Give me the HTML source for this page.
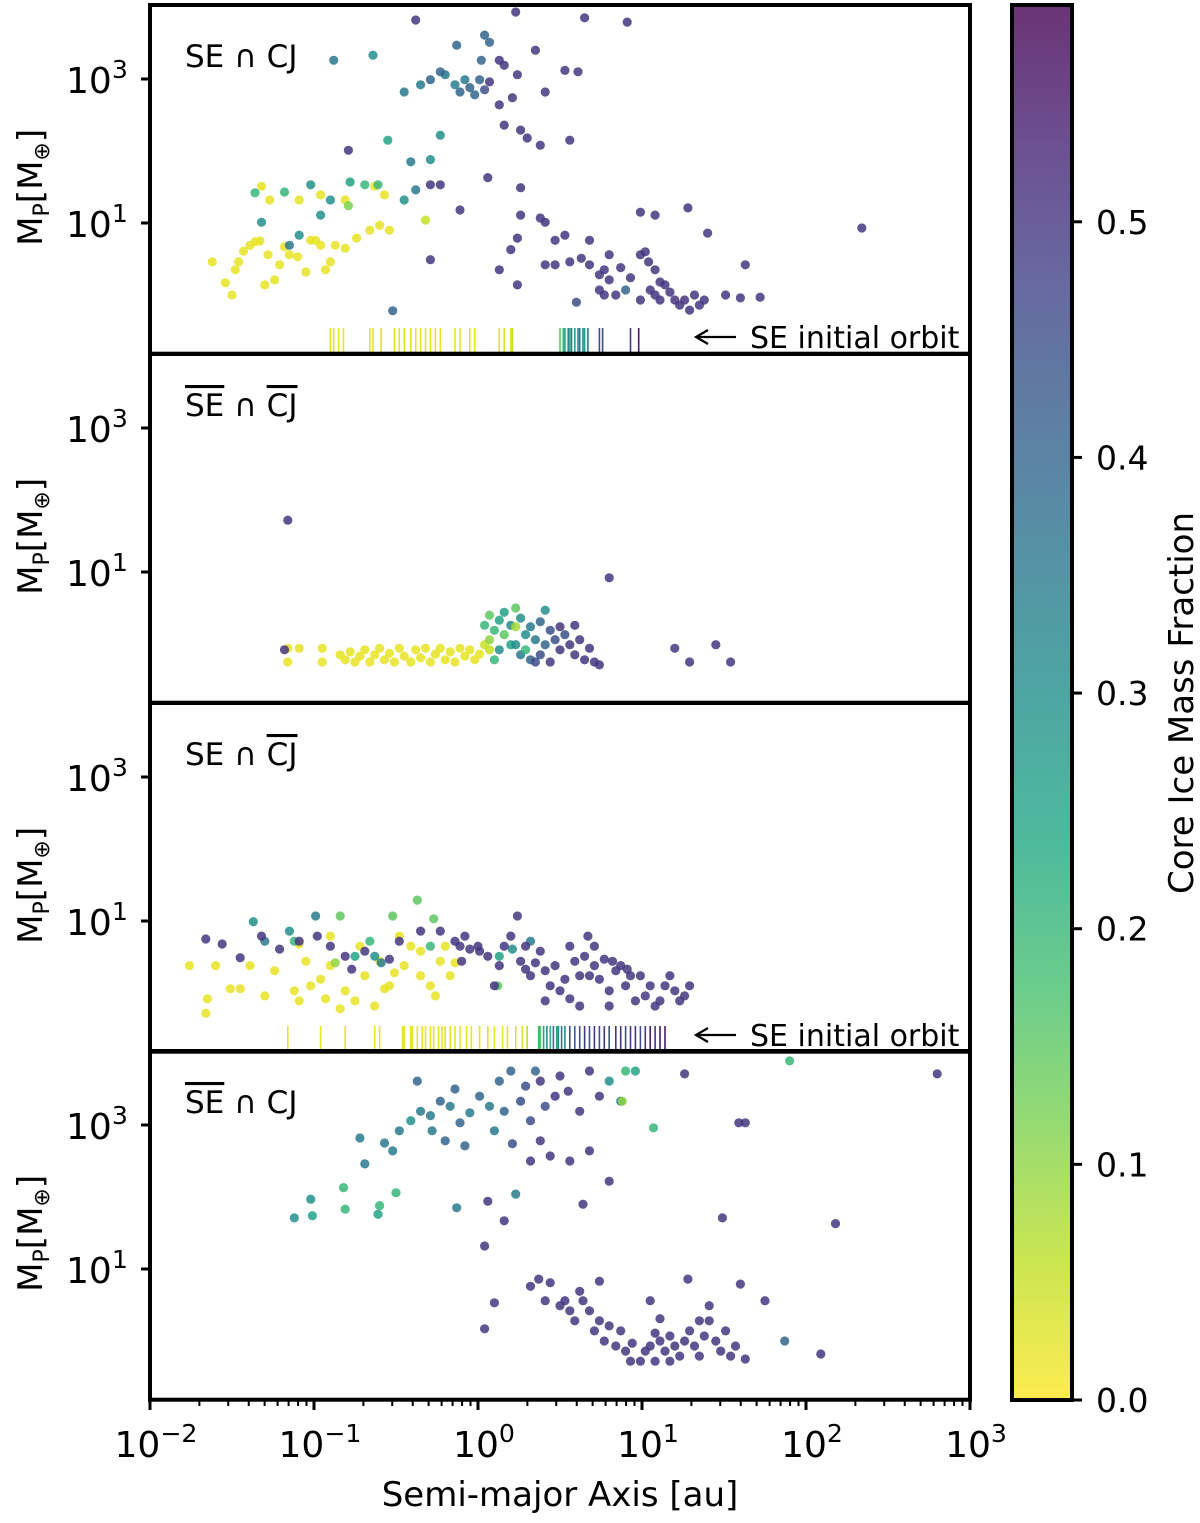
<!DOCTYPE html>
<html><head><meta charset="utf-8"><style>
html,body{margin:0;padding:0;background:#fff;width:1200px;height:1523px;overflow:hidden}
svg{display:block;font-family:"DejaVu Sans","Liberation Sans",sans-serif}
</style></head><body>
<svg id="chart" width="1200" height="1523" viewBox="0 0 1200 1523" xmlns="http://www.w3.org/2000/svg">
<defs>
<linearGradient id="cbg" x1="0" y1="1" x2="0" y2="0">
<stop offset="0" stop-color="#fde725"/><stop offset="0.1" stop-color="#bddf26"/><stop offset="0.2" stop-color="#7ad151"/><stop offset="0.3" stop-color="#44bf70"/><stop offset="0.4" stop-color="#22a884"/><stop offset="0.5" stop-color="#21918c"/><stop offset="0.6" stop-color="#2a788e"/><stop offset="0.7" stop-color="#355f8d"/><stop offset="0.8" stop-color="#414487"/><stop offset="0.9" stop-color="#482475"/><stop offset="1" stop-color="#440154"/>
</linearGradient>
</defs>
<g id="layer"></g>
</svg>
<script>
// Data: [log10 a (au), log10 Mp (Earth masses), core ice mass fraction]
const xTickExps = [-2, -1, 0, 1, 2, 3];
const yTickExps = [1, 3];
const cbTicks = [0.0, 0.1, 0.2, 0.3, 0.4, 0.5];

const seCj = [
[-1.62,0.46,0.02],[-1.54,0.17,0.02],[-1.50,0.0,0.02],[-1.48,0.35,0.02],[-1.46,0.46,0.02],[-1.43,0.61,0.02],[-1.39,0.69,0.02],[-1.36,0.74,0.02],[-1.33,0.75,0.02],[-1.30,0.14,0.02],[-1.28,0.56,0.02],[-1.24,0.21,0.02],[-1.21,0.42,0.02],[-1.18,0.67,0.02],[-1.15,0.56,0.02],[-1.10,0.53,0.02],[-1.05,0.32,0.02],[-1.02,0.76,0.02],[-0.99,0.76,0.02],[-0.96,0.69,0.02],[-0.93,0.35,0.02],[-0.90,0.46,0.02],[-0.87,0.69,0.02],[-0.81,0.65,0.02],[-0.74,0.79,0.02],[-0.66,0.90,0.02],[-0.60,0.97,0.02],[-1.32,1.51,0.02],[-1.27,1.32,0.02],[-1.09,1.32,0.02],[-0.96,1.39,0.02],[-0.81,1.32,0.02],[-0.63,1.51,0.02],[-0.57,1.39,0.02],[-0.32,1.04,0.05],[-0.54,0.90,0.02],
[-1.36,1.42,0.2],[-1.18,1.43,0.2],[-1.02,1.53,0.3],[-0.90,1.32,0.3],[-1.32,1.01,0.3],[-1.15,0.69,0.35],[-1.09,0.83,0.3],[-0.96,1.11,0.3],[-0.78,1.57,0.25],[-0.69,1.53,0.2],[-0.61,1.53,0.2],[-0.79,1.24,0.12],[-0.45,1.32,0.3],[-0.38,1.46,0.35],[-0.41,1.85,0.35],[-0.29,1.88,0.3],[-0.23,2.22,0.3],[-0.55,2.15,0.25],[-0.64,3.33,0.3],[-0.88,3.26,0.35],[-0.79,2.01,0.5],
[-0.29,1.53,0.5],[-0.23,1.53,0.5],[-0.11,1.18,0.5],[-0.29,0.49,0.5],[0.06,1.63,0.5],[0.26,1.49,0.5],[0.26,1.11,0.5],[0.38,1.07,0.5],[0.41,1.01,0.5],[0.24,0.79,0.5],[0.24,0.14,0.5],[0.13,0.35,0.5],[0.20,0.63,0.5],[0.47,0.76,0.5],[0.53,0.83,0.5],[0.16,2.36,0.5],[0.26,2.29,0.5],[0.30,2.18,0.5],[0.38,2.08,0.5],[0.56,2.15,0.5],[0.13,2.64,0.5],[0.21,2.74,0.5],[0.24,3.06,0.5],[0.41,2.82,0.5],[-0.38,3.82,0.5],[-0.13,3.47,0.4],[0.04,3.61,0.4],[0.07,3.51,0.4],[0.13,3.26,0.5],[0.16,3.19,0.5],[0.23,3.93,0.5],[0.35,3.40,0.5],[0.53,3.12,0.5],[0.61,3.10,0.5],[0.65,3.85,0.5],[0.91,3.79,0.5],[-0.20,3.06,0.35],[-0.14,2.92,0.35],[-0.11,2.82,0.4],[-0.08,2.99,0.35],[-0.05,2.88,0.4],[-0.02,2.78,0.4],[0.01,2.99,0.4],[0.04,2.85,0.45],[0.07,2.96,0.5],[-0.35,2.92,0.35],[-0.29,2.99,0.4],[-0.23,3.10,0.4],[-0.45,2.82,0.35],[0.02,3.26,0.4],
[0.56,0.46,0.5],[0.63,0.51,0.5],[0.68,0.42,0.5],[0.74,0.28,0.5],[0.77,0.35,0.5],[0.80,0.21,0.5],[0.87,0.38,0.5],[0.93,0.24,0.5],[0.99,0.56,0.5],[1.02,0.60,0.5],[1.04,0.46,0.5],[1.08,0.35,0.5],[1.11,0.18,0.5],[1.14,0.14,0.5],[1.17,0.04,0.5],[1.20,-0.07,0.5],[1.23,-0.14,0.5],[1.26,-0.07,0.5],[1.29,-0.21,0.5],[1.32,0.0,0.5],[1.35,-0.14,0.5],[1.38,-0.07,0.5],[1.05,0.07,0.5],[1.08,0.0,0.5],[1.11,-0.07,0.5],[0.99,-0.07,0.5],[0.84,0.0,0.5],[0.77,0.0,0.5],[0.90,0.07,0.4],[0.74,0.07,0.5],[0.60,-0.10,0.45],[0.41,0.42,0.5],[0.47,0.42,0.5],[0.68,0.76,0.5],[0.80,0.56,0.5],[0.99,1.15,0.5],[1.08,1.11,0.5],[1.28,1.21,0.5],[1.40,0.86,0.5],[1.63,0.42,0.5],[1.51,0.0,0.5],[1.60,-0.04,0.5],[1.72,-0.03,0.5],[2.34,0.93,0.5],[-0.52,-0.22,0.4]
];
const seCjRug = [
[-0.90,0.02],[-0.88,0.02],[-0.85,0.02],[-0.82,0.02],[-0.66,0.02],[-0.64,0.02],[-0.59,0.02],[-0.51,0.02],[-0.48,0.02],[-0.45,0.02],[-0.41,0.02],[-0.38,0.02],[-0.35,0.02],[-0.32,0.02],[-0.29,0.02],[-0.26,0.02],[-0.23,0.02],[-0.14,0.02],[-0.11,0.02],[-0.05,0.02],[-0.02,0.02],[0.13,0.03],[0.16,0.03],[0.20,0.03],[0.21,0.05],
[0.50,0.15],[0.52,0.2],[0.53,0.25],[0.55,0.3],[0.56,0.2],[0.57,0.35],[0.59,0.25],[0.61,0.3],[0.62,0.35],[0.64,0.3],[0.65,0.25],[0.67,0.35],[0.74,0.45],[0.76,0.45],[0.93,0.5],[0.98,0.55]
];
const nSeNCj = [
[-1.16,-0.25,0.02],[-1.16,-0.06,0.02],[-1.09,-0.06,0.02],[-0.95,-0.06,0.02],[-0.95,-0.25,0.02],[-0.84,-0.15,0.02],[-0.81,-0.22,0.02],[-0.78,-0.11,0.02],[-0.75,-0.25,0.02],[-0.72,-0.17,0.02],[-0.69,-0.08,0.02],[-0.66,-0.25,0.02],[-0.63,-0.15,0.02],[-0.60,-0.06,0.02],[-0.57,-0.22,0.02],[-0.54,-0.13,0.02],[-0.51,-0.25,0.02],[-0.48,-0.06,0.02],[-0.45,-0.17,0.02],[-0.41,-0.25,0.02],[-0.38,-0.08,0.02],[-0.35,-0.19,0.02],[-0.32,-0.06,0.02],[-0.29,-0.25,0.02],[-0.26,-0.14,0.02],[-0.23,-0.06,0.02],[-0.20,-0.22,0.02],[-0.17,-0.11,0.02],[-0.14,-0.25,0.02],[-0.11,-0.06,0.02],[-0.08,-0.17,0.02],[-0.05,-0.08,0.02],[-0.02,-0.22,0.02],[0.01,-0.14,0.02],[0.04,-0.01,0.05],[0.07,-0.08,0.05],
[0.04,0.26,0.2],[0.07,0.40,0.15],[0.10,0.19,0.2],[0.13,0.33,0.25],[0.16,0.44,0.25],[0.20,0.26,0.3],[0.23,0.50,0.15],[0.26,0.36,0.3],[0.29,0.13,0.3],[0.32,0.24,0.35],[0.35,0.06,0.35],[0.38,0.31,0.4],[0.41,-0.01,0.4],[0.44,0.19,0.45],[0.47,0.06,0.45],[0.50,-0.08,0.5],[0.53,0.13,0.45],[0.56,-0.01,0.5],[0.59,-0.15,0.5],[0.62,0.06,0.5],[0.65,-0.22,0.5],[0.68,-0.06,0.5],[0.71,-0.25,0.5],[0.74,-0.29,0.5],[0.13,-0.08,0.3],[0.20,-0.01,0.25],[0.26,-0.15,0.35],[0.32,-0.22,0.4],[0.38,-0.15,0.45],[0.44,-0.25,0.5],[0.07,0.06,0.1],[0.10,-0.22,0.2],[0.16,0.13,0.15],[0.23,-0.01,0.3],[0.29,-0.08,0.2],[0.35,-0.25,0.45],[0.41,0.47,0.3],[0.23,0.24,0.08],[0.50,0.24,0.5],[0.59,0.26,0.5],
[-1.16,1.72,0.5],[0.80,0.92,0.5],[1.20,-0.06,0.5],[1.29,-0.25,0.5],[1.45,-0.01,0.5],[1.54,-0.25,0.5],[-1.18,-0.08,0.5]
];
const seNCj = [
[-1.76,0.38,0.02],[-1.65,-0.08,0.02],[-1.66,-0.28,0.02],[-1.60,0.38,0.02],[-1.51,0.06,0.02],[-1.45,0.06,0.02],[-1.39,0.38,0.02],[-1.30,-0.04,0.02],[-1.24,0.31,0.02],[-1.12,0.03,0.02],[-1.09,-0.11,0.02],[-1.05,0.44,0.02],[-1.02,0.10,0.02],[-0.96,0.19,0.02],[-0.93,-0.08,0.02],[-0.90,0.38,0.02],[-0.84,-0.22,0.02],[-0.81,0.03,0.02],[-0.75,-0.11,0.02],[-0.72,0.65,0.02],[-0.69,0.24,0.02],[-0.63,-0.18,0.02],[-0.57,0.06,0.02],[-0.54,0.10,0.02],[-0.51,0.28,0.02],[-0.48,0.79,0.02],[-0.45,0.38,0.02],[-0.41,0.65,0.02],[-0.35,0.24,0.02],[-0.29,0.10,0.02],[-0.26,-0.04,0.02],[-0.23,0.44,0.02],[-0.20,0.65,0.02],[-0.17,0.24,0.02],[-0.60,0.44,0.02],[-0.35,0.58,0.02],[-0.90,0.79,0.02],[-1.09,0.68,0.02],[-0.14,0.42,0.02],
[-1.37,0.99,0.3],[-1.30,0.72,0.35],[-1.15,0.86,0.3],[-1.12,0.72,0.2],[-0.99,1.07,0.35],[-0.84,1.07,0.15],[-0.75,0.51,0.25],[-0.66,0.72,0.2],[-0.63,0.51,0.3],[-0.59,0.42,0.35],[-0.52,1.07,0.15],[-0.37,1.29,0.15],[-0.27,1.03,0.15],[-0.29,0.65,0.2],[0.12,0.10,0.15],[0.13,0.51,0.25],[0.21,0.61,0.3],[0.32,0.72,0.35],[-0.87,0.42,0.1],
[-1.66,0.75,0.5],[-1.56,0.68,0.5],[-1.45,0.49,0.5],[-1.32,0.79,0.5],[-1.21,0.61,0.5],[-1.09,0.72,0.5],[-0.98,0.79,0.5],[-0.90,0.65,0.5],[-0.81,0.51,0.5],[-0.77,0.33,0.5],[-0.69,0.58,0.5],[-0.54,0.47,0.5],[-0.48,0.72,0.5],[-0.35,0.86,0.5],[-0.23,0.86,0.5],[-0.14,0.72,0.5],[-0.11,0.65,0.5],[-0.08,0.79,0.5],[-0.05,0.61,0.5],[0.01,0.58,0.5],[0.06,0.51,0.5],[0.13,0.38,0.5],[0.16,0.65,0.5],[0.20,0.79,0.5],[0.24,1.07,0.5],[0.26,0.44,0.5],[0.29,0.33,0.5],[0.32,0.24,0.5],[0.35,0.42,0.5],[0.38,0.58,0.5],[0.41,0.31,0.5],[0.44,0.10,0.5],[0.47,0.38,0.5],[0.50,0.03,0.5],[0.53,0.19,0.5],[0.56,0.65,0.5],[0.59,0.44,0.5],[0.62,0.24,0.5],[0.65,0.51,0.5],[0.68,0.24,0.5],[0.71,0.38,0.5],[0.74,0.19,0.5],[0.77,0.47,0.5],[0.80,0.03,0.5],[0.84,0.31,0.5],[0.87,0.38,0.5],[0.90,0.10,0.5],[0.93,0.24,0.5],[0.96,-0.11,0.5],[0.99,0.24,0.5],[1.02,-0.04,0.5],[1.05,0.10,0.5],[1.08,-0.18,0.5],[1.11,-0.11,0.5],[1.14,0.10,0.5],[1.17,0.24,0.5],[1.20,0.03,0.5],[1.23,-0.11,0.5],[1.26,-0.04,0.5],[1.29,0.10,0.5],[0.71,0.65,0.5],[0.67,0.79,0.5],[0.82,0.44,0.5],[0.91,0.33,0.5],[0.56,-0.08,0.5],[0.41,-0.11,0.5],[0.62,-0.18,0.5],[0.80,-0.18,0.5],[0.29,0.65,0.5],[0.10,0.10,0.5],[0.0,0.65,0.5],[-0.10,0.44,0.5]
];
const seNCjRug = [
[-1.16,0.02],[-0.96,0.02],[-0.81,0.02],[-0.63,0.02],[-0.60,0.02],[-0.46,0.02],[-0.45,0.02],[-0.41,0.02],[-0.40,0.02],[-0.37,0.02],[-0.34,0.02],[-0.32,0.02],[-0.29,0.02],[-0.27,0.02],[-0.24,0.02],[-0.22,0.02],[-0.20,0.02],[-0.17,0.02],[-0.14,0.02],[-0.11,0.02],[-0.07,0.02],[-0.04,0.02],[0.01,0.02],[0.06,0.02],[0.10,0.02],[0.15,0.02],[0.18,0.02],[0.23,0.03],[0.27,0.03],[0.30,0.05],
[0.37,0.2],[0.38,0.15],[0.40,0.25],[0.42,0.3],[0.44,0.2],[0.46,0.35],[0.48,0.25],[0.49,0.3],[0.51,0.35],[0.53,0.3],
[0.56,0.45],[0.59,0.4],[0.62,0.45],[0.65,0.5],[0.68,0.45],[0.71,0.5],[0.74,0.45],[0.77,0.5],[0.80,0.45],[0.84,0.5],[0.87,0.5],[0.90,0.45],[0.93,0.5],[0.96,0.5],[0.99,0.45],[1.02,0.5],[1.05,0.55],[1.08,0.5],[1.11,0.55],[1.14,0.55]
];
const nSeCj = [
[-1.12,1.71,0.3],[-1.02,1.97,0.3],[-1.01,1.74,0.25],[-0.82,2.13,0.2],[-0.81,1.83,0.2],[-0.61,1.76,0.25],[-0.60,1.88,0.2],[-0.50,2.06,0.2],[-0.13,1.85,0.35],[0.23,2.04,0.35],[-0.69,2.46,0.35],[-0.52,2.64,0.35],[-0.57,2.75,0.35],[-0.48,2.92,0.35],[-0.41,3.06,0.3],[-0.35,3.19,0.35],[-0.29,3.13,0.35],[-0.23,3.33,0.4],[-0.17,3.26,0.35],[-0.11,3.03,0.4],[-0.05,3.17,0.35],[0.01,3.40,0.4],[0.07,3.26,0.35],[0.10,2.92,0.35],[0.13,3.61,0.4],[0.16,3.19,0.4],[0.20,3.75,0.4],[0.26,3.33,0.45],[0.29,3.54,0.45],[0.32,3.06,0.45],[0.38,3.61,0.5],[0.41,3.26,0.45],[0.47,3.40,0.5],[0.50,3.68,0.5],[0.55,3.47,0.5],[0.62,3.19,0.5],[0.68,3.75,0.5],[0.74,3.40,0.5],[0.80,3.61,0.3],[0.87,3.33,0.35],[0.90,3.75,0.2],[0.96,3.75,0.25],[0.88,3.33,0.1],[1.07,2.96,0.2],[1.26,3.71,0.5],[1.90,3.89,0.2],[2.80,3.71,0.5],[1.59,3.03,0.5],[1.63,3.03,0.5],[-0.72,2.82,0.35],[-0.37,3.61,0.4],[-0.28,2.92,0.35],[-0.20,2.78,0.4],[-0.08,2.71,0.4],[-0.14,3.50,0.4],[0.38,2.78,0.5],[0.44,2.57,0.5],[0.56,2.50,0.5],[0.68,2.64,0.5],[0.80,2.22,0.5],[0.64,1.90,0.5],[0.06,1.94,0.5],[0.16,1.67,0.5],[0.04,1.32,0.5],[1.49,1.71,0.5],[2.18,1.63,0.5],[0.35,3.75,0.4],[0.21,2.74,0.45],[0.32,2.50,0.5],
[0.10,0.53,0.5],[0.04,0.17,0.5],[0.32,0.76,0.5],[0.37,0.86,0.5],[0.41,0.56,0.5],[0.44,0.81,0.5],[0.50,0.49,0.5],[0.53,0.56,0.5],[0.56,0.42,0.5],[0.59,0.28,0.5],[0.64,0.56,0.5],[0.68,0.42,0.5],[0.71,0.14,0.5],[0.74,0.28,0.5],[0.77,0.0,0.5],[0.80,0.21,0.5],[0.84,-0.07,0.5],[0.87,0.14,0.5],[0.90,-0.14,0.5],[0.94,-0.03,0.5],[0.99,-0.28,0.5],[1.02,-0.14,0.5],[1.05,-0.07,0.5],[1.08,0.11,0.5],[1.11,0.0,0.5],[1.14,-0.14,0.5],[1.17,0.07,0.5],[1.20,-0.07,0.5],[1.23,-0.21,0.5],[1.26,0.0,0.5],[1.29,0.14,0.5],[1.32,-0.07,0.5],[1.35,-0.21,0.5],[1.38,0.07,0.5],[1.41,0.28,0.5],[1.45,0.0,0.5],[1.48,-0.14,0.5],[1.51,0.14,0.5],[1.54,-0.21,0.5],[1.57,-0.07,0.5],[1.63,-0.25,0.5],[1.05,0.56,0.5],[1.11,0.31,0.5],[1.28,0.86,0.5],[1.35,0.28,0.5],[1.41,0.49,0.5],[1.60,0.79,0.5],[1.75,0.56,0.5],[1.87,0.0,0.4],[2.09,-0.18,0.5],[0.74,0.83,0.5],[0.62,0.69,0.5],[0.93,-0.28,0.5],[1.08,-0.28,0.5],[1.17,-0.28,0.5]
];

const panels = [
  {name:"se-and-cj", top:5, pts:seCj, rug:seCjRug},
  {name:"not-se-and-not-cj", top:354, pts:nSeNCj, rug:null},
  {name:"se-and-not-cj", top:703, pts:seNCj, rug:seNCjRug},
  {name:"not-se-and-cj", top:1051, pts:nSeCj, rug:null}
];

const X0 = 150, X1 = 970, PH = 348.7;
const xScale = v => X0 + (v + 2) * (X1 - X0) / 5;
const yScale = (top, v) => top + 74 + (3 - v) * 72;
const CMAX = 0.592;
const VIR = ["#440154","#482475","#414487","#355f8d","#2a788e","#21918c","#22a884","#44bf70","#7ad151","#bddf26","#fde725"];
function hex(h){return [parseInt(h.slice(1,3),16),parseInt(h.slice(3,5),16),parseInt(h.slice(5,7),16)];}
function color(c){
  let t = 1 - Math.max(0, Math.min(1, c / CMAX));
  let f = t * 10, i = Math.min(9, Math.floor(f)), r = f - i;
  const a = hex(VIR[i]), b = hex(VIR[i+1]);
  return "rgb(" + a.map((v,k)=>Math.round(v + (b[k]-v)*r)).join(",") + ")";
}
const NS = "http://www.w3.org/2000/svg";
const layer = document.getElementById("layer");
function mk(tag, attrs, parent){
  const e = document.createElementNS(NS, tag);
  for (const k in attrs) e.setAttribute(k, attrs[k]);
  (parent || layer).appendChild(e);
  return e;
}
function supText(parent, x, y, base, sup, anchor, fs){
  const t = mk("text", {x:x, y:y, "font-size":fs, "text-anchor":anchor, fill:"#000"}, parent);
  const a = document.createElementNS(NS, "tspan"); a.textContent = base; t.appendChild(a);
  const b = document.createElementNS(NS, "tspan"); b.setAttribute("dy", -fs*0.42); b.setAttribute("font-size", fs*0.7); b.textContent = sup; t.appendChild(b);
  return t;
}

panels.forEach((p, pi) => {
  const g = mk("g", {});
  
  
  const pg = mk("g", {}, g);
  
  
  p.pts.forEach(d => {
    const c = mk("circle", {cx:xScale(d[0]).toFixed(1), cy:yScale(p.top, d[1]).toFixed(1), r:4.6, fill:color(d[2]), "fill-opacity":0.85}, pg);
    
    
  });
  if (p.rug) {
    const rg = mk("g", {}, g);
    
    
    p.rug.forEach(d => {
      const x = xScale(d[0]).toFixed(1);
      const l = mk("line", {x1:x, x2:x, y1:p.top+323, y2:p.top+347, stroke:color(d[1]), "stroke-width":1.6}, rg);
      
      
    });
    const ar = mk("g", {}, g);
    
    
    const ay = p.top + 332;
    mk("line", {x1:736, x2:697, y1:ay, y2:ay, stroke:"#000", "stroke-width":2.2}, ar);
    mk("polyline", {points:(708)+","+(ay-7)+" 696,"+ay+" "+(708)+","+(ay+7), fill:"none", stroke:"#000", "stroke-width":2.2}, ar);
    const at = mk("text", {x:750, y:ay+11, "font-size":30, fill:"#000"}, ar);
    at.textContent = "SE initial orbit";
  }
  const lb = mk("text", {x:185, y:p.top+62, "font-size":31, fill:"#000"}, g);
  
  
  const parts = [["SE", pi===1||pi===3], [" ∩ ", false], ["CJ", pi===1||pi===2]];
  parts.forEach(pt => {
    const s = document.createElementNS(NS, "tspan");
    s.textContent = pt[0];
    if (pt[1]) s.setAttribute("text-decoration", "overline");
    lb.appendChild(s);
  });
  yTickExps.forEach(e => {
    const y = yScale(p.top, e);
    mk("line", {x1:X0-9, x2:X0, y1:y, y2:y, stroke:"#000", "stroke-width":3}, g);
    const t = supText(g, 66, y+14, "10", String(e), "start", 36);
    
    
  });
  const yt = mk("text", {x:0, y:0, "font-size":34, "text-anchor":"middle", fill:"#000", transform:"translate(42,"+(p.top+PH/2+8)+") rotate(-90)"}, g);
  
  
  const t1 = document.createElementNS(NS,"tspan"); t1.textContent="M"; yt.appendChild(t1);
  const t2 = document.createElementNS(NS,"tspan"); t2.setAttribute("font-size",22); t2.setAttribute("dy",7); t2.textContent="P"; yt.appendChild(t2);
  const t3 = document.createElementNS(NS,"tspan"); t3.setAttribute("dy",-7); t3.textContent="[M"; yt.appendChild(t3);
  const t4 = document.createElementNS(NS,"tspan"); t4.setAttribute("font-size",22); t4.setAttribute("dy",7); t4.textContent="⊕"; yt.appendChild(t4);
  const t5 = document.createElementNS(NS,"tspan"); t5.setAttribute("dy",-7); t5.textContent="]"; yt.appendChild(t5);
  const fr = mk("rect", {x:X0, y:p.top, width:X1-X0, height:PH, fill:"none", stroke:"#000", "stroke-width":4}, g);
  
  
});

const xg = mk("g", {});


const XB = 1400;
for (let e = -2; e < 3; e++) {
  for (let m = 2; m <= 9; m++) {
    const x = xScale(e + Math.log10(m));
    mk("line", {x1:x, x2:x, y1:XB, y2:XB+6, stroke:"#000", "stroke-width":2}, xg);
  }
}
xTickExps.forEach(e => {
  const x = xScale(e);
  mk("line", {x1:x, x2:x, y1:XB, y2:XB+10, stroke:"#000", "stroke-width":3}, xg);
  const t = supText(xg, x+6, 1457, "10", e < 0 ? "−" + (-e) : String(e), "middle", 36);
  
  
});
const xt = mk("text", {x:560, y:1506, "font-size":34, "text-anchor":"middle", fill:"#000"}, xg);


xt.textContent = "Semi-major Axis [au]";

const cg = mk("g", {});


const CB0 = 1400, CB1 = 5;
const cbY = v => CB0 - (CB0 - CB1) * v / CMAX;
mk("rect", {x:1012, y:CB1, width:60, height:CB0-CB1, fill:"url(#cbg)", "fill-opacity":0.8}, cg);
mk("rect", {x:1012, y:CB1, width:60, height:CB0-CB1, fill:"none", stroke:"#000", "stroke-width":4}, cg);
cbTicks.forEach(v => {
  const y = cbY(v);
  mk("line", {x1:1072, x2:1082, y1:y, y2:y, stroke:"#000", "stroke-width":3}, cg);
  const t = mk("text", {x:1096, y:y+12, "font-size":33, fill:"#000"}, cg);
  
  
  t.textContent = v.toFixed(1);
});
const ct = mk("text", {x:0, y:0, "font-size":34, "text-anchor":"middle", fill:"#000", transform:"translate(1193,703) rotate(-90)"}, cg);


ct.textContent = "Core Ice Mass Fraction";
</script>
</body></html>
